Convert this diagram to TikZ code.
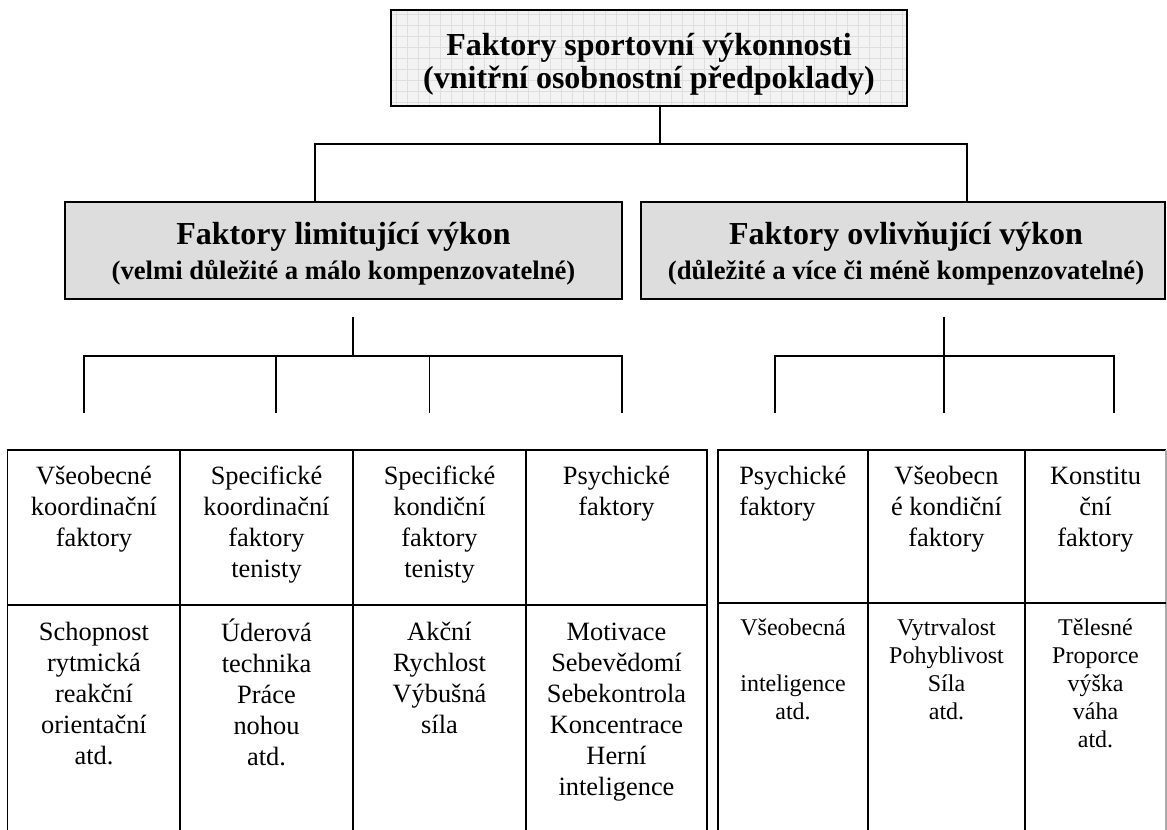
\documentclass[tikz,border=0pt]{standalone}
\usepackage{fontspec}
\setmainfont{Liberation Serif}
\definecolor{titlebg}{RGB}{243,243,243}
\definecolor{gridcol}{RGB}{222,222,222}
\definecolor{boxgray}{RGB}{221,221,221}
\definecolor{edgegray}{RGB}{170,170,170}
\begin{document}
\begin{tikzpicture}[x=0.75pt,y=-0.75pt,
  conn/.style={line width=1.1pt},
  tline/.style={line width=1.2pt},
  divline/.style={line width=2pt},
  topbox/.style={draw, line width=1.5pt, fill=titlebg, inner sep=0,
    minimum width=387pt, minimum height=72pt,
    path picture={\draw[gridcol, line width=0.4pt, step=8.25pt]
      (path picture bounding box.south west) grid (path picture bounding box.north east);}},
  graybox/.style={draw, line width=1.1pt, fill=boxgray, inner sep=0, minimum height=72.75pt},
  titletext/.style={anchor=north, align=center, inner sep=0, font=\bfseries\fontsize{24}{24.75}\selectfont},
  headtext/.style={anchor=base, inner sep=0, font=\bfseries\fontsize{24}{28}\selectfont},
  subtext/.style={anchor=base, inner sep=0, font=\bfseries\fontsize{20}{24}\selectfont},
  cellL/.style={anchor=north, align=center, inner sep=0, font=\fontsize{19.8}{23.25}\selectfont},
  cellS/.style={anchor=north, align=center, inner sep=0, font=\fontsize{18}{21}\selectfont}
]
\useasboundingbox (0,0) rectangle (1167,830);

% top box
\node[topbox] (top) at (649,58) {};
\node[titletext] (ttl) at (649,31.9) {\strut Faktory sportovní výkonnosti\\(vnitřní osobnostní předpoklady)};

% second level boxes
\node[graybox, minimum width=417.75pt] (lim) at (343.5,250.5) {};
\node[headtext] (limh) at (343.5,245) {Faktory limitující výkon};
\node[subtext] (lims) at (343.5,280) {(velmi důležité a málo kompenzovatelné)};

\node[graybox, minimum width=393pt] (inf) at (903,250.5) {};
\node[headtext] (infh) at (906,245) {Faktory ovlivňující výkon};
\node[subtext] (infs) at (906,280) {(důležité a více či méně kompenzovatelné)};

% top connectors
\coordinate (j1) at (660,144);
\coordinate (lj) at (315,144);
\coordinate (rj) at (967,144);
\draw[conn] (top.south -| j1) -- (j1);
\draw[conn] (lim.north -| lj) |- (rj) -- (inf.north -| rj);

% lower left connectors
\coordinate (l0) at (353,317);
\coordinate (l1) at (353,356);
\coordinate (la) at (84,413);
\coordinate (lb) at (276,413);
\coordinate (lc) at (429.5,413);
\coordinate (ld) at (622,413);
\draw[conn] (l0) -- (l1);
\draw[conn] (la) |- (l1 -| ld) -- (ld);
\draw[conn] (lb) -- (lb |- l1);
\draw[conn] (lc) -- (lc |- l1);

% lower right connectors
\coordinate (r0) at (944,317);
\coordinate (rb) at (944,413);
\coordinate (ra) at (775,413);
\coordinate (rc) at (1114,413);
\coordinate (r1) at (944,356);
\draw[conn] (r0) -- (rb);
\draw[conn] (ra) |- (r1 -| rc) -- (rc);

% left table
\draw[tline] (7.5,830) |- (707,450) -- (707,830);
\draw[tline] (180,450) -- (180,830);
\draw[tline] (353,450) -- (353,830);
\draw[tline] (526,450) -- (526,830);
\draw[divline] (7.5,605) -- (707,605);

% right table
\draw[tline] (718,830) -- (718,450) -- (1166,450);
\draw[line width=0.8pt, edgegray] (1166,450) -- (1166,830);
\draw[tline] (868,450) -- (868,830);
\draw[tline] (1025,450) -- (1025,830);
\draw[divline] (718,603) -- (1166,603);

% left table texts
\node[cellL] (h1) at (94,462.3) {\strut Všeobecné\\koordinační\\faktory};
\node[cellL] (h2) at (266.5,462.3) {\strut Specifické\\koordinační\\faktory\\tenisty};
\node[cellL] (h3) at (439.5,462.3) {\strut Specifické\\kondiční\\faktory\\tenisty};
\node[cellL] (h4) at (616.5,462.3) {\strut Psychické\\faktory};
\node[cellL] (b1) at (94,618.3) {\strut Schopnost\\rytmická\\reakční\\orientační\\atd.};
\node[cellL] (b2) at (266.5,618.3) {\strut Úderová\\technika\\Práce\\nohou\\atd.};
\node[cellL] (b3) at (439.5,618.3) {\strut Akční\\Rychlost\\Výbušná\\síla};
\node[cellL] (b4) at (616.5,618.3) {\strut Motivace\\Sebevědomí\\Sebekontrola\\Koncentrace\\Herní\\inteligence};

% right table texts
\node[cellL, anchor=north west, align=left] (h5) at (739,462.3) {\strut Psychické\\faktory};
\node[cellL] (h6) at (946.5,462.3) {\strut Všeobecn\\é kondiční\\faktory};
\node[cellL] (h7) at (1095.5,462.3) {\strut Konstitu\\ční\\faktory};
\node[cellS] (b5) at (793,616) {\strut Všeobecná\\\mbox{}\\inteligence\\atd.};
\node[cellS] (b6) at (946.5,616) {\strut Vytrvalost\\Pohyblivost\\Síla\\atd.};
\node[cellS] (b7) at (1095.5,616) {\strut Tělesné\\Proporce\\výška\\váha\\atd.};
\end{tikzpicture}
\end{document}
